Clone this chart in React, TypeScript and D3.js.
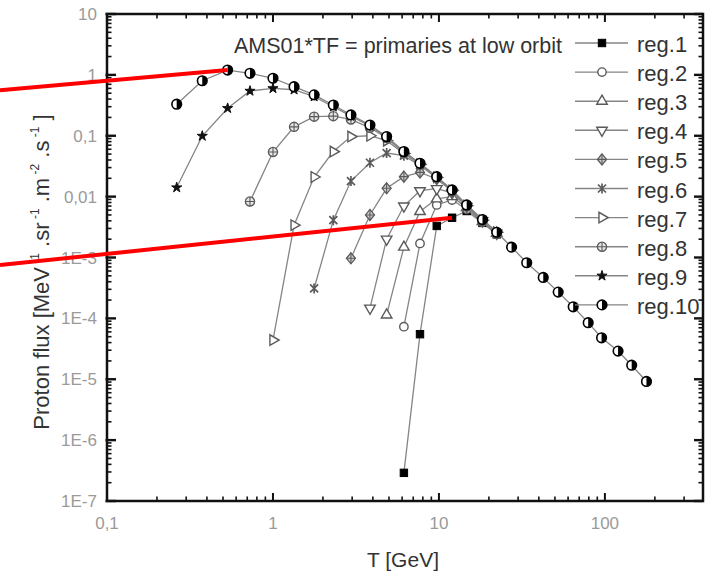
import React from 'react';
import * as d3 from 'd3';

// ---- data ----
const energies = [0.263, 0.375, 0.533, 0.727, 1.0, 1.34, 1.77, 2.31, 2.95, 3.84, 4.84, 6.15, 7.69, 9.7, 12.0, 14.7, 18.3, 22.3, 27.4, 33.8, 42.5, 52.3, 64.4, 79.3, 95.5, 120, 145, 178];

const N = null;
const reg1 = [N, N, N, N, N, N, N, N, N, N, N, 2.9e-7, 5.5e-5, 0.0033, 0.0045, 0.0058, 0.0037, 0.0024];
const reg2 = [N, N, N, N, N, N, N, N, N, N, N, 7.3e-5, 0.0017, 0.0073, 0.0088, 0.0062, 0.0038, 0.0024];
const reg3 = [N, N, N, N, N, N, N, N, N, N, 1.14e-4, 0.00148, 0.0057, 0.0092, 0.01, 0.0066, 0.0039, 0.0025];
const reg4 = [N, N, N, N, N, N, N, N, N, 1.47e-4, 0.002, 0.007, 0.0125, 0.0135, 0.0115, 0.0069, 0.004, 0.0025];
const reg5 = [N, N, N, N, N, N, N, N, 9.7e-4, 0.005, 0.0137, 0.0213, 0.025, 0.0195, 0.0122, 0.007, 0.0041, 0.0025];
const reg6 = [N, N, N, N, N, N, 3.1e-4, 0.0041, 0.018, 0.036, 0.052, 0.047, 0.0325, 0.0203, 0.0124, 0.0071, 0.0041, 0.0025];
const reg7 = [N, N, N, N, 4.4e-5, 0.0034, 0.021, 0.055, 0.097, 0.1, 0.083, 0.051, 0.034, 0.0207, 0.0126, 0.0071, 0.0041, 0.0026];
const reg8 = [N, N, N, 0.0083, 0.054, 0.14, 0.206, 0.21, 0.185, 0.135, 0.092, 0.053, 0.0345, 0.0209, 0.0127, 0.0072, 0.0041, 0.0026];
const reg9 = [0.0141, 0.099, 0.283, 0.544, 0.6, 0.57, 0.44, 0.3, 0.21, 0.145, 0.094, 0.054, 0.0348, 0.021, 0.0127, 0.0072, 0.0042, 0.0026];
const reg10 = [0.33, 0.8, 1.2, 1.06, 0.88, 0.64, 0.47, 0.32, 0.22, 0.15, 0.097, 0.055, 0.0353, 0.0213, 0.0129, 0.0073, 0.0042, 0.0026, 0.00148, 8.2e-4, 4.7e-4, 2.7e-4, 1.55e-4, 8.5e-5, 4.8e-5, 2.9e-5, 1.7e-5, 9.2e-6];

const seriesNames = ['reg.1', 'reg.2', 'reg.3', 'reg.4', 'reg.5', 'reg.6', 'reg.7', 'reg.8', 'reg.9', 'reg.10'];
const seriesValues = [reg1, reg2, reg3, reg4, reg5, reg6, reg7, reg8, reg9, reg10];
const markerTypes = ['square', 'circle', 'triUp', 'triDown', 'diamondCross', 'xBar', 'triRight', 'circlePlus', 'star', 'halfCircle'];

const xTickValues = [0.1, 1, 10, 100];
const xTickLabels = ['0,1', '1', '10', '100'];
const yTickValues = [1e-7, 1e-6, 1e-5, 1e-4, 1e-3, 0.01, 0.1, 1, 10];
const yTickLabels = ['1E-7', '1E-6', '1E-5', '1E-4', '1E-3', '0,01', '0,1', '1', '10'];

const annotationText = 'AMS01*TF = primaries at low orbit';
const xTitle = 'T [GeV]';

// red pointer lines (data coordinates of start flux and target point)
const pointerStartFlux = [0.56, 7.5e-4];
const pointerEndEnergy = [0.533, 12];
const pointerEndFlux = [1.2, 0.0045];

// ---- layout ----
const W = 711, H = 576;
const LEFT = 107, RIGHT = 703, TOP = 14, BOTTOM = 501;
const FONT = '"Liberation Sans", Arial, Helvetica, sans-serif';
const LINE_GRAY = '#858585';
const MK_GRAY = '#5a5a5a';

const xs = d3.scaleLog().domain([0.1, 390]).range([LEFT, RIGHT]);
const ys = d3.scaleLog().domain([1e-7, 10]).range([BOTTOM, TOP]);

const triPath = d3.symbol().type(d3.symbolTriangle).size(48)() as string;
const starPath = d3.symbol().type(d3.symbolStar).size(32)() as string;

function Marker({ type, x, y }: { type: string; x: number; y: number }) {
  const t = `translate(${x},${y})`;
  switch (type) {
    case 'square':
      return <rect x={x - 3.7} y={y - 3.7} width={7.4} height={7.4} fill="#000" stroke="#000" strokeWidth={1} />;
    case 'circle':
      return <circle cx={x} cy={y} r={4.2} fill="#fff" stroke={MK_GRAY} strokeWidth={1.4} />;
    case 'triUp':
      return <path transform={t} d={triPath} fill="#fff" stroke={MK_GRAY} strokeWidth={1.4} />;
    case 'triDown':
      return <path transform={`${t} rotate(180)`} d={triPath} fill="#fff" stroke={MK_GRAY} strokeWidth={1.4} />;
    case 'triRight':
      return <path transform={`${t} rotate(90)`} d={triPath} fill="#fff" stroke={MK_GRAY} strokeWidth={1.4} />;
    case 'diamondCross':
      return (
        <g transform={t}>
          <path d="M0,-5.5L4.5,0L0,5.5L-4.5,0Z" fill="#cfcfcf" stroke={MK_GRAY} strokeWidth={1.3} />
          <path d="M0,-5.5V5.5M-4.5,0H4.5" stroke={MK_GRAY} strokeWidth={1.1} />
        </g>
      );
    case 'xBar':
      return (
        <g transform={t}>
          <path d="M-4,-4L4,4M-4,4L4,-4M0,-5V5" stroke={MK_GRAY} strokeWidth={1.7} fill="none" />
        </g>
      );
    case 'circlePlus':
      return (
        <g transform={t}>
          <circle r={4.6} fill="#e6e6e6" stroke={MK_GRAY} strokeWidth={1.3} />
          <path d="M0,-4.6V4.6M-4.6,0H4.6" stroke={MK_GRAY} strokeWidth={1.1} />
        </g>
      );
    case 'star':
      return <path transform={t} d={starPath} fill="#111" stroke="#111" strokeWidth={1} />;
    case 'halfCircle':
      return (
        <g transform={t}>
          <circle r={4.8} fill="#fff" stroke="#000" strokeWidth={1.6} />
          <path d="M0,-4.8A4.8,4.8 0 0 1 0,4.8Z" fill="#000" />
        </g>
      );
    default:
      return null;
  }
}

export default function App() {
  const line = d3.line<[number, number]>().x(d => xs(d[0])).y(d => ys(d[1]));

  const allX = xs.ticks();
  const allY = ys.ticks();
  const isMajor = (v: number) => Math.abs(Math.log10(v) - Math.round(Math.log10(v))) < 1e-6;

  const legendTop = 43;
  const legendStep = 29.1;

  return (
    <svg width={W} height={H} style={{ position: 'absolute', left: 0, top: 0, background: '#fff' }} fontFamily={FONT}>
      <rect x={0} y={0} width={W} height={H} fill="#fff" />

      {/* series */}
      {seriesValues.map((vals, si) => {
        const pts: [number, number][] = [];
        vals.forEach((v, i) => { if (v != null) pts.push([energies[i], v as number]); });
        return (
          <g key={si}>
            <path d={line(pts) as string} fill="none" stroke={LINE_GRAY} strokeWidth={1.3} />
            {pts.map((p, j) => (
              <Marker key={j} type={markerTypes[si]} x={xs(p[0])} y={ys(p[1])} />
            ))}
          </g>
        );
      })}

      {/* axis frame */}
      <rect x={LEFT} y={TOP} width={RIGHT - LEFT} height={BOTTOM - TOP} fill="none" stroke="#111" strokeWidth={2.5} />

      {/* x ticks bottom and top */}
      {allX.filter(v => xs(v) >= LEFT - 0.5 && xs(v) <= RIGHT + 0.5).map((v, i) => {
        const px = xs(v);
        const len = isMajor(v) ? 8 : 4.5;
        const sw = isMajor(v) ? 2 : 1.6;
        return (
          <g key={'xt' + i}>
            <line x1={px} x2={px} y1={BOTTOM} y2={BOTTOM - len} stroke="#111" strokeWidth={sw} />
            <line x1={px} x2={px} y1={TOP} y2={TOP + len} stroke="#111" strokeWidth={sw} />
          </g>
        );
      })}
      {/* y ticks left and right */}
      {allY.map((v, i) => {
        const py = ys(v);
        const len = isMajor(v) ? 9 : 4.5;
        const sw = isMajor(v) ? 2.4 : 1.6;
        return (
          <g key={'yt' + i}>
            <line x1={LEFT - (isMajor(v) ? 1.5 : 0)} x2={LEFT + len} y1={py} y2={py} stroke="#111" strokeWidth={sw} />
            <line x1={RIGHT} x2={RIGHT - len} y1={py} y2={py} stroke="#111" strokeWidth={sw} />
          </g>
        );
      })}

      {/* tick labels */}
      {xTickValues.map((v, i) => (
        <text key={'xl' + i} x={xs(v)} y={529} textAnchor="middle" fontSize={17} fill="#9a9a9a">{xTickLabels[i]}</text>
      ))}
      {yTickValues.map((v, i) => (
        <text key={'yl' + i} x={97} y={ys(v) + 6} textAnchor="end" fontSize={17} fill="#9a9a9a">{yTickLabels[i]}</text>
      ))}

      {/* axis titles */}
      <text x={(LEFT + RIGHT) / 2 - 2} y={567} textAnchor="middle" fontSize={21} fill="#333">{xTitle}</text>
      <text transform="translate(49,272) rotate(-90)" textAnchor="middle" fontSize={22} fill="#333">
        <tspan>Proton flux [MeV</tspan>
        <tspan fontSize={12} dy={-10}> -1</tspan>
        <tspan dy={10}> .sr</tspan>
        <tspan fontSize={12} dy={-10}> -1</tspan>
        <tspan dy={10}> .m</tspan>
        <tspan fontSize={12} dy={-10}> -2</tspan>
        <tspan dy={10}> .s</tspan>
        <tspan fontSize={12} dy={-10}> -1</tspan>
        <tspan dy={10}> ]</tspan>
      </text>

      {/* annotation */}
      <text x={234} y={53} fontSize={21.5} fill="#333">{annotationText}</text>

      {/* legend */}
      {seriesNames.map((name, i) => {
        const cy = legendTop + i * legendStep;
        return (
          <g key={'lg' + i}>
            <line x1={575} x2={628} y1={cy} y2={cy} stroke={LINE_GRAY} strokeWidth={1.4} />
            <Marker type={markerTypes[i]} x={602} y={cy} />
            <text x={637} y={cy + 9} fontSize={22} fill="#333">{name}</text>
          </g>
        );
      })}

      {/* red pointer lines */}
      {pointerStartFlux.map((f, i) => (
        <line key={'rp' + i} x1={xs(xs.invert(0))} y1={ys(f)} x2={xs(pointerEndEnergy[i])} y2={ys(pointerEndFlux[i])} stroke="#f00" strokeWidth={4} />
      ))}
    </svg>
  );
}
